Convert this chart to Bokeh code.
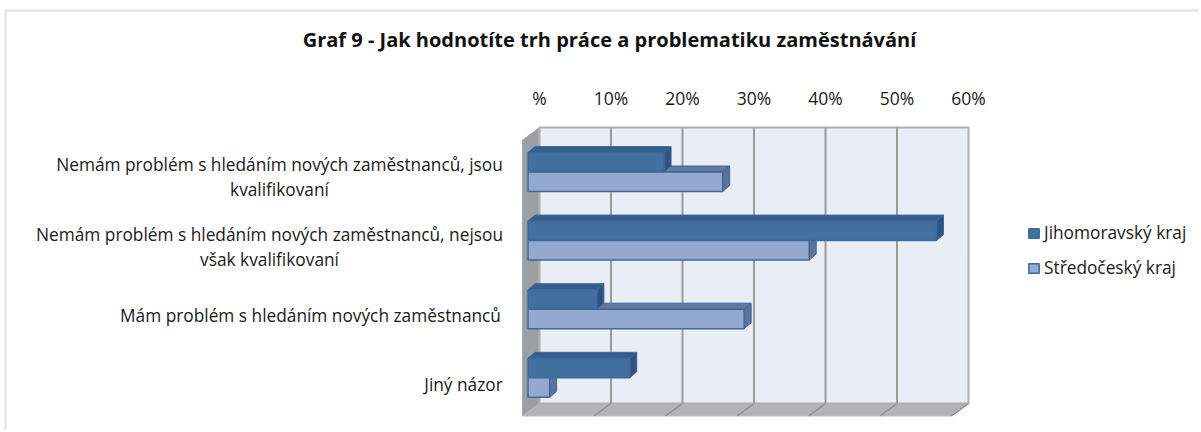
from bokeh.plotting import figure
from bokeh.embed import file_html
from bokeh.resources import INLINE
from bokeh.models import Range1d, FixedTicker, Label, Legend, LegendItem, BoxAnnotation

TITLE = "Graf 9 - Jak hodnotíte trh práce a problematiku zaměstnávání"
CATEGORIES = [
    "Nemám problém s hledáním nových zaměstnanců, jsou\nkvalifikovaní",
    "Nemám problém s hledáním nových zaměstnanců, nejsou\nvšak kvalifikovaní",
    "Mám problém s hledáním nových zaměstnanců",
    "Jiný názor",
]
JIHOMORAVSKY = [19.1, 57.2, 9.7, 14.3]
STREDOCESKY = [27.3, 39.4, 30.3, 3.1]
TICKS = [0, 10, 20, 30, 40, 50, 60]
TICK_LABELS = ["%", "10%", "20%", "30%", "40%", "50%", "60%"]

FONT = "Open Sans"
W, H = 1199, 430
OFF = 1        # page offset of the canvas
PX_X = 7.15    # pixels per percent
PX_Y = 68.6    # pixels per category
X0, Y0 = 540, 172.5   # page position of data (0, 0)

WALL_DX, WALL_DY = 17 / PX_X, 12.5 / PX_Y
BAR_DX, BAR_DY = 7 / PX_X, 6 / PX_Y
BAR_H = 19.5 / PX_Y

p = figure(
    width=W, height=H, output_backend="svg", toolbar_location=None,
    x_range=Range1d((OFF - X0) / PX_X, (OFF + W - X0) / PX_X),
    y_range=Range1d((OFF + H - Y0) / PX_Y, (OFF - Y0) / PX_Y),
    x_axis_location="above", y_axis_location=None,
    min_border=0, outline_line_color=None,
)
p.grid.visible = False

y_top = (128 - Y0) / PX_Y
y_back = (404 - Y0) / PX_Y
x_end = TICKS[-1]

ax = p.xaxis[0]
ax.fixed_location = y_top
ax.ticker = FixedTicker(ticks=TICKS)
ax.major_label_overrides = dict(zip(TICKS, TICK_LABELS))
ax.axis_line_color = None
ax.major_tick_line_color = None
ax.minor_tick_line_color = None
ax.major_label_standoff = 12
ax.major_label_text_font = FONT
ax.major_label_text_font_size = "17.5px"
ax.major_label_text_color = "#1a1a1a"

p.patch([0, -WALL_DX, -WALL_DX, 0],
        [y_top, y_top + WALL_DY, y_back + WALL_DY, y_back],
        fill_color="#9c9fa2", line_color="#a8abae")
p.patch([0, x_end, x_end - WALL_DX, -WALL_DX],
        [y_back, y_back, y_back + WALL_DY, y_back + WALL_DY],
        fill_color="#b1b3b6", line_color="#b9bbbe")
p.quad(left=0, right=x_end, top=y_top, bottom=y_back,
       fill_color="#e9edf6", line_color="#b0b0b0", line_width=2)
for t in TICKS[1:-1]:
    p.line([t, t], [y_top, y_back], line_color="#9b9b9b", line_width=2)
for t in TICKS[1:]:
    p.line([t, t - WALL_DX], [y_back, y_back + WALL_DY], line_color="#8f9193", line_width=1.5)


def bars(values, offset, front, top, side):
    # the bars stand on the mid-depth plane; their front face starts at `left`
    left = -11.5 / PX_X
    d = dict(left=left, rights=[], tops=[], bottoms=[], xs_t=[], ys_t=[], xs_s=[], ys_s=[],
             front=front, top=top, side=side)
    for i, v in enumerate(values):
        r = v - 12 / PX_X
        y0 = i + offset
        y1 = y0 + BAR_H
        d["xs_t"].append([left, r, r + BAR_DX, left + BAR_DX])
        d["ys_t"].append([y0, y0, y0 - BAR_DY, y0 - BAR_DY])
        d["xs_s"].append([r, r + BAR_DX, r + BAR_DX, r])
        d["ys_s"].append([y0, y0 - BAR_DY, y1 - BAR_DY, y1])
        d["rights"].append(r)
        d["tops"].append(y0)
        d["bottoms"].append(y1)
    return d


OUT = "#3f6797"
a = bars(JIHOMORAVSKY, -BAR_H, "#41709f", "#355e8e", "#2e5380")
b = bars(STREDOCESKY, 0, "#95a9d0", "#64799f", "#5d7299")

for d in (b, a):
    p.patches(d["xs_t"], d["ys_t"], fill_color=d["top"], line_color=OUT, line_width=1)
    p.patches(d["xs_s"], d["ys_s"], fill_color=d["side"], line_color=OUT, line_width=1)
r_a = p.quad(left=a["left"], right=a["rights"], top=a["tops"], bottom=a["bottoms"],
             fill_color=a["front"], line_color=OUT, line_width=1.5)
r_b = p.quad(left=b["left"], right=b["rights"], top=b["tops"], bottom=b["bottoms"],
             fill_color=b["front"], line_color=OUT, line_width=1.5)


def sx(px):
    return px - OFF


def sy(py):
    return H - (py - OFF)


centres = [280, 270, 311, 464]
ys = [177.5, 247.5, 316, 385]
for c, cx, yy in zip(CATEGORIES, centres, ys):
    p.add_layout(Label(x=sx(cx), x_units="screen", y=sy(yy), y_units="screen",
                       text=c, text_font=FONT, text_font_size="17.3px", text_color="#1a1a1a",
                       text_align="center", text_baseline="middle", text_line_height=1.06))

p.add_layout(Label(x=sx(610), x_units="screen", y=sy(40), y_units="screen",
                   text=TITLE, text_font=FONT, text_font_size="20px", text_font_style="bold",
                   text_color="#111111", text_align="center", text_baseline="middle"))

p.add_layout(BoxAnnotation(left=5, right=1400, top=10, bottom=600,
                           left_units="canvas", right_units="canvas",
                           top_units="canvas", bottom_units="canvas",
                           fill_color=None, line_color="#9c9c9c", line_width=2))

legend = Legend(items=[LegendItem(label="Jihomoravský kraj", renderers=[r_a]),
                       LegendItem(label="Středočeský kraj", renderers=[r_b])],
                location=(sx(1033 - 5), sy(280)),
                background_fill_alpha=0, border_line_color=None,
                glyph_width=13, glyph_height=12, spacing=12, margin=0, padding=5,
                label_standoff=4, label_text_font=FONT, label_text_font_size="17.3px",
                label_text_color="#1a1a1a")
p.add_layout(legend, "center")

open("out.html", "w").write(file_html(p, INLINE))
